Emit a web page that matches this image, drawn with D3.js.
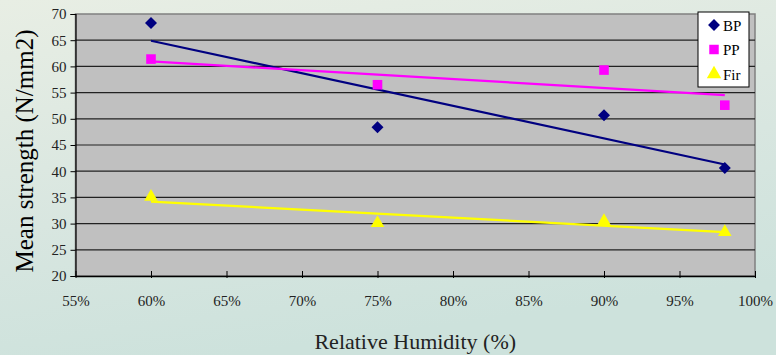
<!DOCTYPE html>
<html>
<head>
<meta charset="utf-8">
<script src="https://cdn.jsdelivr.net/npm/d3@7"></script>
<style>
  body { margin: 0; }
  svg { display: block; }
  svg text { font-family: "Liberation Serif", "Times New Roman", serif; }
</style>
</head>
<body>
<div id="chart"></div>
<script>
// humidity levels (%) and mean strength per species
const humidity = [60, 75, 90, 98];
const bpValues = [68.3, 48.4, 50.7, 40.6];
const ppValues = [61.4, 56.5, 59.3, 52.6];
const firValues = [35.1, 30.1, 30.5, 28.4];
const xTicks = [55, 60, 65, 70, 75, 80, 85, 90, 95, 100];
const yTicks = [20, 25, 30, 35, 40, 45, 50, 55, 60, 65, 70];

const series = [
    { name: "BP", values: bpValues, color: "#000080", symbol: d3.symbolDiamond2 },
    { name: "PP", values: ppValues, color: "#FF00FF", symbol: d3.symbolSquare },
    { name: "Fir", values: firValues, color: "#FFFF00", symbol: d3.symbolTriangle }
];

const width = 776, height = 355;
const margin = { top: 14, right: 21, bottom: 79, left: 75.5 };

const svg = d3.select("#chart")
    .append("svg")
    .attr("width", width)
    .attr("height", height);

// page background
const defs = svg.append("defs");
const grad = defs.append("linearGradient")
    .attr("id", "bg")
    .attr("x1", 0).attr("y1", 0).attr("x2", 0.3).attr("y2", 1);
grad.append("stop").attr("offset", "0%").attr("stop-color", "#e8eee4");
grad.append("stop").attr("offset", "60%").attr("stop-color", "#d8e6e0");
grad.append("stop").attr("offset", "100%").attr("stop-color", "#cde2dc");
svg.append("rect").attr("width", width).attr("height", height).attr("fill", "url(#bg)");

const x = d3.scaleLinear()
    .domain([55, 100])
    .range([margin.left, width - margin.right]);

const y = d3.scaleLinear()
    .domain([20, 70])
    .range([height - margin.bottom, margin.top]);

// plot area
svg.append("rect")
    .attr("x", x(55))
    .attr("y", y(70))
    .attr("width", x(100) - x(55))
    .attr("height", y(20) - y(70))
    .attr("fill", "#c0c0c0")
    .attr("stroke", "#808080")
    .attr("stroke-width", 1.5);

// horizontal gridlines
svg.append("g")
    .selectAll("line")
    .data(yTicks.filter(d => d > 20 && d < 70))
    .join("line")
    .attr("x1", x(55))
    .attr("x2", x(100))
    .attr("y1", d => y(d))
    .attr("y2", d => y(d))
    .attr("stroke", "#222")
    .attr("stroke-width", 1.2);

// y axis
const yAxis = svg.append("g")
    .attr("transform", `translate(${x(55)},0)`)
    .call(d3.axisLeft(y).tickValues(yTicks).tickSize(5).tickPadding(4))
    .attr("font-family", null)
    .attr("font-size", null);
yAxis.select(".domain").attr("stroke", "#000").attr("stroke-width", 1.2);
yAxis.selectAll(".tick line").attr("stroke", "#000").attr("x2", 0).attr("x1", -5);
yAxis.selectAll("text")
    .style("font-size", "15px")
    .attr("fill", "#222");

// x axis
const xAxis = svg.append("g")
    .attr("transform", `translate(0,${y(20)})`)
    .call(d3.axisBottom(x).tickValues(xTicks).tickFormat(d => d + "%").tickSize(0).tickPadding(19))
    .attr("font-family", null)
    .attr("font-size", null);
xAxis.select(".domain").attr("stroke", "#000").attr("stroke-width", 1.5);
xAxis.selectAll(".tick line").attr("stroke", "#000").attr("y1", -5).attr("y2", 2);
xAxis.selectAll("text")
    .style("font-size", "15px")
    .attr("fill", "#222");

// trendlines (least squares)
const fit = vals => {
    const mx = d3.mean(humidity), my = d3.mean(vals);
    const sxy = d3.sum(humidity, (h, i) => (h - mx) * (vals[i] - my));
    const sxx = d3.sum(humidity, h => (h - mx) ** 2);
    const b = sxy / sxx;
    return h => my + b * (h - mx);
};

const line = d3.line().x(d => x(d[0])).y(d => y(d[1]));
const hExtent = d3.extent(humidity);

series.forEach(s => {
    const f = fit(s.values);
    svg.append("path")
        .attr("d", line(hExtent.map(h => [h, f(h)])))
        .attr("fill", "none")
        .attr("stroke", s.color)
        .attr("stroke-width", 2.2);
});

// points
series.forEach(s => {
    svg.append("g")
        .selectAll("path")
        .data(s.values)
        .join("path")
        .attr("transform", (d, i) => `translate(${x(humidity[i])},${y(d)})`)
        .attr("d", d3.symbol().type(s.symbol).size(s.name === "Fir" ? 80 : 92))
        .attr("fill", s.color);
});

// legend
const legend = svg.append("g").attr("transform", "translate(698,12)");
legend.append("rect")
    .attr("width", 51)
    .attr("height", 75)
    .attr("fill", "#fff")
    .attr("stroke", "#000")
    .attr("stroke-width", 1);
legend.selectAll("path")
    .data(series)
    .join("path")
    .attr("transform", (d, i) => `translate(16,${13 + i * 24.5})`)
    .attr("d", d => d3.symbol().type(d.symbol).size(90)())
    .attr("fill", d => d.color);
legend.selectAll("text")
    .data(series)
    .join("text")
    .attr("x", 25)
    .attr("y", (d, i) => 18.5 + i * 24.5)
    .style("font-size", "15px")
    .attr("fill", "#000")
    .text(d => d.name);

// axis titles
svg.append("text")
    .attr("transform", `translate(33,${(y(20) + y(70)) / 2 + 6}) rotate(-90)`)
    .attr("text-anchor", "middle")
    .style("font-size", "25px")
    .attr("fill", "#000")
    .text("Mean strength (N/mm2)");

svg.append("text")
    .attr("x", (x(55) + x(100)) / 2)
    .attr("y", 349)
    .attr("text-anchor", "middle")
    .style("font-size", "22px")
    .attr("fill", "#222")
    .text("Relative Humidity (%)");
</script>
</body>
</html>
